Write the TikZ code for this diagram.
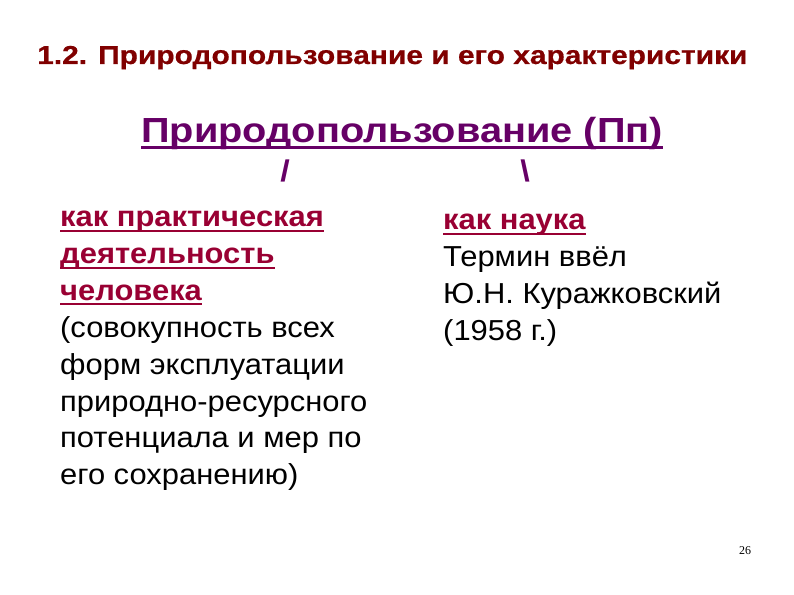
\documentclass[tikz,border=0pt]{standalone}
\usepackage{fontspec}
\setmainfont{Liberation Sans}
\newfontfamily\serifnum{Liberation Serif}
\newfontfamily\titlefont[FakeStretch=1.155,FakeBold=0.6]{Liberation Sans Bold}
\newfontfamily\headfont[FakeStretch=1.14]{Liberation Sans Bold}
\newfontfamily\bodyfont[FakeStretch=1.07,BoldFont=Liberation Sans Bold,BoldFeatures={FakeStretch=1.07}]{Liberation Sans}
\definecolor{titlered}{HTML}{800000}
\definecolor{headpurple}{HTML}{660066}
\definecolor{crimson}{HTML}{990033}
\newcommand{\fixul}[1]{\setbox0\hbox{#1}\rlap{\vrule height -0.1em depth 0.17em width \wd0}\box0}
\begin{document}
\begin{tikzpicture}[x=1bp,y=-1bp,
  titletext/.style={text=titlered,font=\titlefont\fontsize{26}{28}\selectfont,inner sep=0pt},
  headtext/.style={text=headpurple,font=\headfont\fontsize{35}{40}\selectfont,inner sep=0pt},
  slashtext/.style={text=headpurple,font=\headfont\fontsize{30}{36}\selectfont,inner sep=0pt},
  bodytext/.style={text=black,font=\bodyfont\fontsize{29}{37}\selectfont,inner sep=0pt,align=left,anchor=north west},
  pagenum/.style={font=\serifnum\fontsize{12}{14}\selectfont,inner sep=0pt}]
\path[use as bounding box] (0,0) rectangle (794,595);
\node[titletext,anchor=base west] (title) at (37,64) {1.2. Природопользование и его характеристики};
\node[headtext,anchor=base] (head) at (402,143) {\fixul{Природопользование (Пп)}};
\node[slashtext] (sl) at (285,171) {/};
\node[slashtext] (bs) at (525,171) {\textbackslash};
\node[bodytext] (left) at (60,211) {\textcolor{crimson}{\bfseries\fixul{как практическая}}\\
\textcolor{crimson}{\bfseries\fixul{деятельность}}\\
\textcolor{crimson}{\bfseries\fixul{человека}}\\
(совокупность всех\\
форм эксплуатации\\
природно-ресурсного\\
потенциала и мер по\\
его сохранению)};
\node[bodytext] (right) at (443,214) {\textcolor{crimson}{\bfseries\fixul{как наука}}\\
Термин ввёл\\
Ю.Н. Куражковский\\
(1958 г.)};
\node[pagenum] (pg) at (745,551) {26};
\end{tikzpicture}
\end{document}
